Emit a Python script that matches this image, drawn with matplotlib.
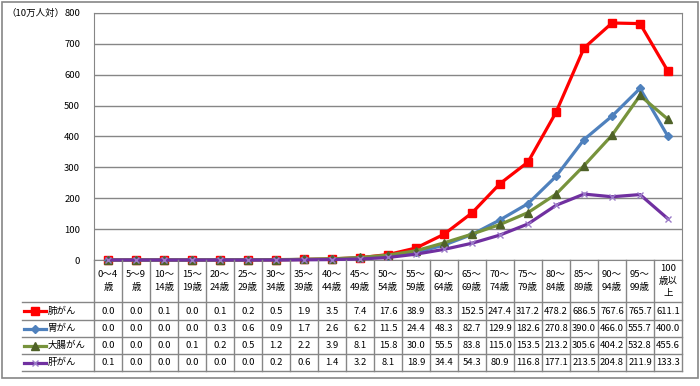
import matplotlib
matplotlib.use("Agg")
import matplotlib.pyplot as plt
from matplotlib.lines import Line2D
from matplotlib.patches import Rectangle

plt.rcParams['font.family'] = ['Noto Sans CJK JP', 'DejaVu Sans']

# 年齢階級
ages = ["0～4\n歳", "5～9\n歳", "10～\n14歳", "15～\n19歳", "20～\n24歳", "25～\n29歳",
        "30～\n34歳", "35～\n39歳", "40～\n44歳", "45～\n49歳", "50～\n54歳", "55～\n59歳",
        "60～\n64歳", "65～\n69歳", "70～\n74歳", "75～\n79歳", "80～\n84歳", "85～\n89歳",
        "90～\n94歳", "95～\n99歳", "100\n歳以\n上"]

lung = [0.0, 0.0, 0.1, 0.0, 0.1, 0.2, 0.5, 1.9, 3.5, 7.4, 17.6, 38.9, 83.3,
        152.5, 247.4, 317.2, 478.2, 686.5, 767.6, 765.7, 611.1]
stomach = [0.0, 0.0, 0.0, 0.0, 0.3, 0.6, 0.9, 1.7, 2.6, 6.2, 11.5, 24.4, 48.3,
           82.7, 129.9, 182.6, 270.8, 390.0, 466.0, 555.7, 400.0]
colon = [0.0, 0.0, 0.0, 0.1, 0.2, 0.5, 1.2, 2.2, 3.9, 8.1, 15.8, 30.0, 55.5,
         83.8, 115.0, 153.5, 213.2, 305.6, 404.2, 532.8, 455.6]
liver = [0.1, 0.0, 0.0, 0.0, 0.0, 0.0, 0.2, 0.6, 1.4, 3.2, 8.1, 18.9, 34.4,
         54.3, 80.9, 116.8, 177.1, 213.5, 204.8, 211.9, 133.3]

names = ["肺がん", "胃がん", "大腸がん", "肝がん"]
line_colors = ["#FF0000", "#4F81BD", "#77933C", "#7030A0"]
markers = [
    dict(marker="s", markersize=6, markerfacecolor="#FF0000", markeredgecolor="#FF0000"),
    dict(marker="D", markersize=4.5, markerfacecolor="#4F81BD", markeredgecolor="#4F81BD"),
    dict(marker="^", markersize=6, markerfacecolor="#4F6228", markeredgecolor="#4F6228"),
    dict(marker="x", markersize=5, markeredgecolor="#9B7BC8", markeredgewidth=1),
]
values = [lung, stomach, colon, liver]

W, H = 700, 386
fig = plt.figure(figsize=(W / 100, H / 100), dpi=100)


def rect(x0, y0, x1, y1):
    return [x0 / W, 1 - y1 / H, (x1 - x0) / W, (y1 - y0) / H]


gray = "#868686"
fs = 6.8

# グラフ本体
ax = fig.add_axes(rect(94, 13, 682, 260))
x = list(range(len(ages)))
for vals, c, mk in zip(values, line_colors, markers):
    ax.plot(x, vals, color=c, linewidth=2.3, clip_on=False, zorder=3, **mk)
ax.set_xlim(-0.5, len(ages) - 0.5)
ax.set_ylim(0, 800)
ax.set_yticks(range(0, 801, 100))
ax.yaxis.grid(True, color=gray, linewidth=1)
ax.set_axisbelow(True)
ax.tick_params(axis="y", length=0, pad=10, labelsize=fs)
ax.tick_params(axis="x", length=0, labelbottom=False)
for s in ax.spines.values():
    s.set_color(gray)
fig.text(6 / W, 1 - 13 / H, "（10万人対）", fontsize=fs, va="center", ha="left")

# データテーブル
tab = fig.add_axes(rect(22, 260, 682, 372))
col0 = -0.5 - 72 / 28
tab.set_xlim(col0, len(ages) - 0.5)
tab.set_ylim(372, 260)
tab.axis("off")

row_y = [302, 320, 337, 354, 371]
for yy in row_y:
    tab.plot([col0, len(ages) - 0.5], [yy, yy], color=gray, lw=1, clip_on=False)
for i in range(len(ages) + 1):
    tab.plot([i - 0.5, i - 0.5], [260, 371], color=gray, lw=1, clip_on=False)

for i, lab in enumerate(ages):
    tab.text(i, 281, lab, ha="center", va="center", fontsize=fs, linespacing=1.45)

for r, (name, vals, c, mk) in enumerate(zip(names, values, line_colors, markers)):
    yc = (row_y[r] + row_y[r + 1]) / 2
    for i, v in enumerate(vals):
        tab.text(i, yc, f"{v:.1f}", ha="center", va="center", fontsize=fs)
    tab.add_line(Line2D([col0 + 0.08, col0 + 0.85], [yc, yc], color=c, linewidth=2.3))
    tab.add_line(Line2D([col0 + 0.465], [yc], linestyle="none", color=c, **mk))
    tab.text(col0 + 0.93, yc, name, ha="left", va="center", fontsize=fs)

# 外枠
fig.patches.append(Rectangle((1.5 / W, 1 - 378 / H), 696 / W, 376 / H,
                             transform=fig.transFigure, fill=False,
                             edgecolor=gray, linewidth=1.2))

fig.savefig("out.png", dpi=100)
